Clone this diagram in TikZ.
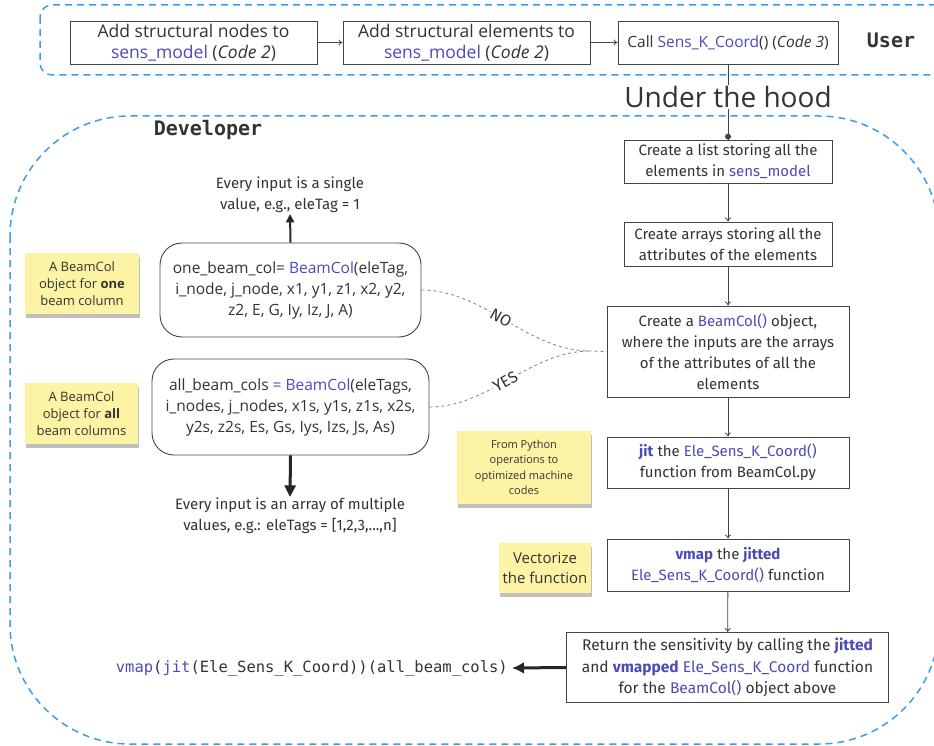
\documentclass[tikz,border=0pt]{standalone}
\usepackage{fontspec}
\setmainfont{Fira Sans}
\newfontfamily\osans{Open Sans}
\newfontfamily\dmono{DejaVu Sans Mono}
\usetikzlibrary{arrows.meta,shadows}
\definecolor{dblue}{HTML}{3D9BE9}
\definecolor{pblue}{HTML}{4B4BB8}
\definecolor{txt}{HTML}{333333}
\definecolor{notey}{HTML}{FCF3A4}
\definecolor{edgec}{HTML}{444444}
\newcommand{\pb}[1]{\textcolor{pblue}{#1}}
\begin{document}
\begin{tikzpicture}[x=1pt,y=-1pt,
  bluedash/.style={draw=dblue, line width=1.5pt, dash pattern=on 7pt off 5pt},
  sqbox/.style={draw=edgec, line width=0.9pt, fill=white, text=txt, align=center, inner sep=2pt, font=\fontsize{15}{21}\selectfont},
  topbox/.style={sqbox, font=\osans\fontsize{17.5}{21.5}\selectfont},
  rbox/.style={draw=edgec, line width=0.9pt, fill=white, text=txt, align=center, rounded corners=22pt, inner sep=2pt, font=\osans\fontsize{15.5}{21}\selectfont},
  stickynote/.style={fill=notey, text=txt, align=center, inner sep=2pt, font=\osans\fontsize{13}{17}\selectfont,
     drop shadow={shadow xshift=1pt, shadow yshift=-4pt, opacity=0.25, fill=black}},
  plain/.style={text=txt, align=center, font=\fontsize{15}{21}\selectfont},
  thinarrow/.style={draw=edgec, line width=0.8pt, -{To[length=4pt,width=6pt]}},
  dashline/.style={draw=gray, line width=0.8pt, dash pattern=on 3pt off 3pt},
  bigarrow/.style={draw=black!85, line width=#1, -{Triangle[length=3.2*#1+2pt,width=3*#1+2pt]}},
  heading/.style={text=txt, font=\dmono\bfseries\fontsize{20}{24}\selectfont},
  declabel/.style={fill=white, inner sep=1pt, text=txt, font=\fontsize{16}{16}\selectfont}
]
\useasboundingbox (0,0) rectangle (934,746);
\clip (0,0) rectangle (934,746);

% group frames
\draw[bluedash, rounded corners=12pt] (40,5) rectangle (960,75);
\draw[bluedash, rounded corners=120pt] (10,116) rectangle (939,744);

\node[heading] (user) at (891,40) {User};
\node[heading] (dev) at (208,130) {Developer};

% top row
\node[topbox, minimum width=247pt, minimum height=43pt] (b1) at (193.5,42.5) {Add structural nodes to\\\pb{sens\_model} (\textit{Code 2})};
\node[topbox, minimum width=247pt, minimum height=43pt] (b2) at (466.5,42.5) {Add structural elements to\\\pb{sens\_model} (\textit{Code 2})};
\node[topbox, minimum width=220pt, minimum height=43pt, font=\osans\fontsize{15.5}{21}\selectfont] (b3) at (728,42.5) {Call \pb{Sens\_K\_Coord}() (\textit{Code 3})};
\draw[thinarrow] (b1) -- (b2);
\draw[thinarrow] (b2) -- (b3);

% right column
\node[sqbox, minimum width=208pt, minimum height=43pt] (l1) at (728,161.5) {Create a list storing all the\\elements in \pb{sens\_model}};
\node[sqbox, minimum width=208pt, minimum height=44pt] (l2) at (728,244) {Create arrays storing all the\\attributes of the elements};
\node[sqbox, minimum width=242pt, minimum height=91pt] (l3) at (728,351.5) {Create a \pb{BeamCol()} object,\\where the inputs are the arrays\\of the attributes of all the\\elements};
\node[sqbox, minimum width=242pt, minimum height=51pt] (l4) at (728,462.5) {\textcolor{pblue}{\textbf{jit}} the \pb{Ele\_Sens\_K\_Coord()}\\function from BeamCol.py};
\node[sqbox, minimum width=242pt, minimum height=52pt] (l5) at (728,565) {\textcolor{pblue}{\textbf{vmap}} the \textcolor{pblue}{\textbf{jitted}}\\\pb{Ele\_Sens\_K\_Coord()} function};
\node[sqbox, minimum width=322pt, minimum height=70pt, font=\fontsize{15.5}{21.5}\selectfont] (l6) at (727.5,667.5) {Return the sensitivity by calling the \textcolor{pblue}{\textbf{jitted}}\\and \textcolor{pblue}{\textbf{vmapped}} \pb{Ele\_Sens\_K\_Coord} function\\for the \pb{BeamCol()} object above};

% under the hood link
\draw[draw=edgec, line width=0.8pt] (b3.south) -- (l1.north);
\fill[edgec] (l1.north) ++(0,-3) circle (3pt);
\node[fill=white, text=txt, inner sep=1pt, font=\osans\fontsize{28}{30}\selectfont] (hood) at (728,97) {Under the hood};

\draw[thinarrow] (l1) -- (l2);
\draw[thinarrow] (l2) -- (l3);
\draw[thinarrow] (l3) -- (l4);
\draw[thinarrow] (l4) -- (l5);
\draw[thinarrow] (l5) -- (l6);

% left side
\node[rbox, minimum width=261pt, minimum height=94pt] (one) at (290.5,290) {one\_beam\_col= \pb{BeamCol}(eleTag,\\i\_node, j\_node, x1, y1, z1, x2, y2,\\z2, E, G, Iy, Iz, J, A)};
\node[rbox, minimum width=277pt, minimum height=96pt] (all) at (290.5,407) {all\_beam\_cols \pb{= BeamCol}(eleTags,\\i\_nodes, j\_nodes, x1s, y1s, z1s, x2s,\\y2s, z2s, Es, Gs, Iys, Izs, Js, As)};
\node[plain, anchor=south, inner sep=1pt] (t1) at (290,214) {Every input is a single\\value, e.g., eleTag = 1};
\node[plain, anchor=north, inner sep=1pt] (t2) at (290,497) {Every input is an array of multiple\\values, e.g.: eleTags = [1,2,3,...,n]};
\draw[bigarrow=2pt] (one.north) -- (t1.south);
\draw[bigarrow=3pt] (all.south) -- (t2.north);

% notes
\node[stickynote, minimum width=114pt, minimum height=61pt] (n1) at (82,283.5) {A BeamCol\\object for \textbf{one}\\beam column};
\node[stickynote, minimum width=113pt, minimum height=61pt] (n2) at (81.5,413.5) {A BeamCol\\object for \textbf{all}\\beam columns};
\node[stickynote, minimum width=134pt, minimum height=73pt, font=\osans\fontsize{11}{15.5}\selectfont] (n3) at (524,467.5) {From Python\\operations to\\optimized machine\\codes};
\node[stickynote, minimum width=92pt, minimum height=50pt, font=\osans\fontsize{15}{20}\selectfont] (n4) at (545,568) {Vectorize\\the function};

% decision connectors
\coordinate (jn) at (590,351);
\draw[dashline] (one.east) to[out=0,in=180,looseness=0.9] node[pos=0.47, sloped, declabel] {NO} (jn) -- (l3.west);
\draw[dashline] (all.east) to[out=0,in=180,looseness=0.9] node[pos=0.47, sloped, declabel] {YES} (jn);

% code output
\node[anchor=east, text=txt, inner sep=4pt, font=\dmono\fontsize{15.5}{18}\selectfont] (code) at (512,668) {\pb{vmap}(\pb{jit}(Ele\_Sens\_K\_Coord))(all\_beam\_cols)};
\draw[draw=black!85, line width=3pt, -{Latex[length=12pt,width=12pt]}] (l6.west) -- (code.east);
\end{tikzpicture}
\end{document}
